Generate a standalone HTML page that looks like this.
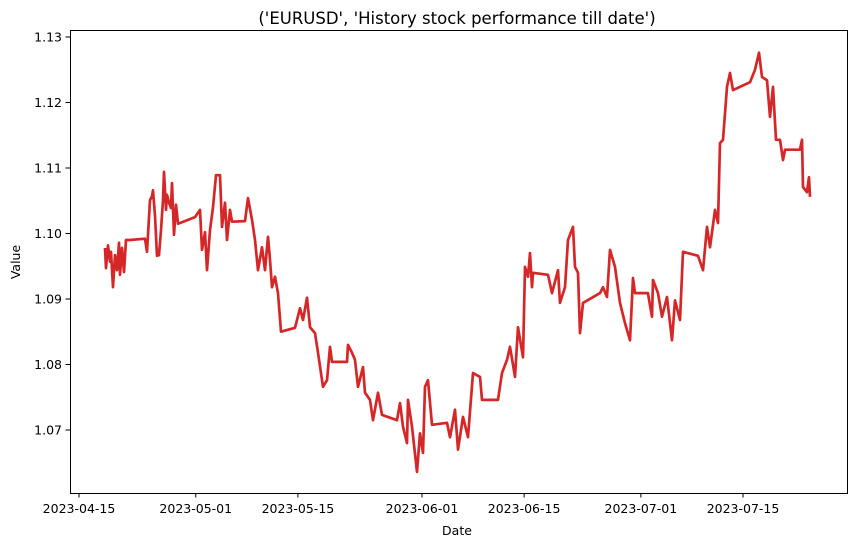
<!DOCTYPE html>
<html><head><meta charset="utf-8"><style>
body{margin:0;background:#fff;}
svg{display:block;font-family:"DejaVu Sans","Liberation Sans",sans-serif;}
</style></head><body>
<svg id="chart" width="855" height="547">
<text x="457" y="24" text-anchor="middle" font-size="16.5">('EURUSD', 'History stock performance till date')</text>
<g id="grid"></g>
<path id="series" fill="none" stroke="#d62728" stroke-width="2.7" stroke-linejoin="round"/>
<rect x="70.5" y="30.5" width="777" height="463" fill="none" stroke="#000" stroke-width="1"/>
<text x="457" y="535" text-anchor="middle" font-size="12.5">Date</text>
<text x="20" y="262" text-anchor="middle" font-size="12.5" transform="rotate(-90 20 262)">Value</text>
</svg>
<script>
const days=[3.56,3.7,3.97,4.25,4.39,4.66,4.93,5.21,5.48,5.62,5.89,6.17,6.44,6.99,9.04,9.32,9.46,9.73,10.0,10.14,10.41,10.69,10.96,11.24,11.51,11.65,11.92,12.06,12.33,12.61,12.74,13.02,13.29,13.57,13.84,15.9,16.58,16.86,17.27,17.54,17.95,18.36,18.77,19.32,19.6,20.01,20.28,20.69,20.97,22.75,23.16,23.71,24.12,24.53,25.08,25.49,25.9,26.17,26.45,26.86,27.27,27.68,29.6,30.29,30.7,31.25,31.66,32.34,32.75,33.44,33.99,34.4,34.67,36.73,36.86,37.41,37.82,38.23,38.92,39.19,39.88,40.29,40.97,41.52,43.58,43.99,44.4,44.95,45.09,45.63,46.32,46.73,47.14,47.42,47.83,48.38,50.43,50.84,51.53,51.94,52.62,53.31,53.99,54.95,55.23,57.42,57.97,58.65,59.06,59.75,60.16,60.85,61.12,61.53,61.8,62.08,62.22,64.27,64.82,65.64,65.92,66.6,67.01,67.7,67.97,68.38,68.66,69.07,71.4,71.81,72.36,72.77,73.45,74.14,74.82,75.51,75.92,76.19,77.97,78.52,78.66,79.35,79.9,80.58,81.27,81.68,82.36,82.77,84.83,85.51,86.06,86.47,87.16,87.57,87.84,88.25,88.8,89.21,89.62,91.95,92.64,93.19,93.6,94.28,94.7,95.11,95.52,96.07,96.48,96.75,98.81,99.08,99.22,99.77,100.04,100.18];
const values=[1.0978,1.0947,1.0982,1.0957,1.0972,1.0918,1.0967,1.0944,1.0986,1.0937,1.0978,1.0941,1.0990,1.0990,1.0992,1.0972,1.0998,1.1051,1.1057,1.1066,1.1027,1.0966,1.0967,1.1005,1.1051,1.1094,1.1036,1.1059,1.1047,1.1039,1.1077,1.0998,1.1044,1.1015,1.1016,1.1025,1.1036,1.0975,1.1002,1.0944,1.1005,1.1040,1.1089,1.1089,1.1010,1.1047,1.0990,1.1036,1.1018,1.1019,1.1054,1.1021,1.0990,1.0944,1.0979,1.0944,1.0995,1.0960,1.0918,1.0934,1.0909,1.0850,1.0856,1.0886,1.0868,1.0902,1.0857,1.0848,1.0818,1.0766,1.0776,1.0827,1.0804,1.0804,1.0830,1.0818,1.0807,1.0766,1.0796,1.0757,1.0746,1.0715,1.0757,1.0723,1.0715,1.0741,1.0705,1.0680,1.0746,1.0705,1.0636,1.0695,1.0665,1.0766,1.0776,1.0708,1.0711,1.0689,1.0731,1.0670,1.0720,1.0689,1.0787,1.0781,1.0746,1.0746,1.0787,1.0807,1.0827,1.0781,1.0857,1.0811,1.0949,1.0934,1.0970,1.0918,1.0940,1.0937,1.0909,1.0944,1.0894,1.0918,1.0990,1.1010,1.0949,1.0940,1.0848,1.0894,1.0909,1.0918,1.0903,1.0975,1.0949,1.0894,1.0863,1.0837,1.0932,1.0909,1.0909,1.0873,1.0929,1.0909,1.0873,1.0903,1.0837,1.0898,1.0868,1.0972,1.0966,1.0944,1.1010,1.0979,1.1036,1.1016,1.1138,1.1143,1.1224,1.1245,1.1219,1.1231,1.1250,1.1276,1.1239,1.1234,1.1178,1.1224,1.1143,1.1143,1.1112,1.1128,1.1128,1.1143,1.1071,1.1063,1.1086,1.1056];
const xTickDays=[0,16,30,47,61,77,91];
const xTickLabels=["2023-04-15","2023-05-01","2023-05-15","2023-06-01","2023-06-15","2023-07-01","2023-07-15"];
const yTicks=[1.07,1.08,1.09,1.10,1.11,1.12,1.13];
const yTickLabels=["1.07","1.08","1.09","1.10","1.11","1.12","1.13"];

function xs(d){return 79+d*7.297;}
function ys(v){return 37+(1.13-v)*6550;}
const NS="http://www.w3.org/2000/svg";
const g=document.getElementById('grid');
xTickDays.forEach((d,i)=>{
  const x=xs(d);
  const l=document.createElementNS(NS,'line');
  l.setAttribute('x1',x);l.setAttribute('x2',x);l.setAttribute('y1',493);l.setAttribute('y2',497.5);l.setAttribute('stroke','#000');
  
  
  g.appendChild(l);
  const t=document.createElementNS(NS,'text');
  t.setAttribute('x',x);t.setAttribute('y',513);t.setAttribute('text-anchor','middle');t.setAttribute('font-size','12.5');
  t.textContent=xTickLabels[i];
  
  
  g.appendChild(t);
});
yTicks.forEach((v,i)=>{
  const y=ys(v);
  const l=document.createElementNS(NS,'line');
  l.setAttribute('x1',65.5);l.setAttribute('x2',70);l.setAttribute('y1',y);l.setAttribute('y2',y);l.setAttribute('stroke','#000');
  
  
  g.appendChild(l);
  const t=document.createElementNS(NS,'text');
  t.setAttribute('x',62);t.setAttribute('y',y+4.5);t.setAttribute('text-anchor','end');t.setAttribute('font-size','12.5');
  t.textContent=yTickLabels[i];
  
  
  g.appendChild(t);
});
let d='';
days.forEach((dd,i)=>{d+=(i?'L':'M')+xs(dd).toFixed(1)+' '+ys(values[i]).toFixed(1);});
document.getElementById('series').setAttribute('d',d);
</script>
</body></html>
